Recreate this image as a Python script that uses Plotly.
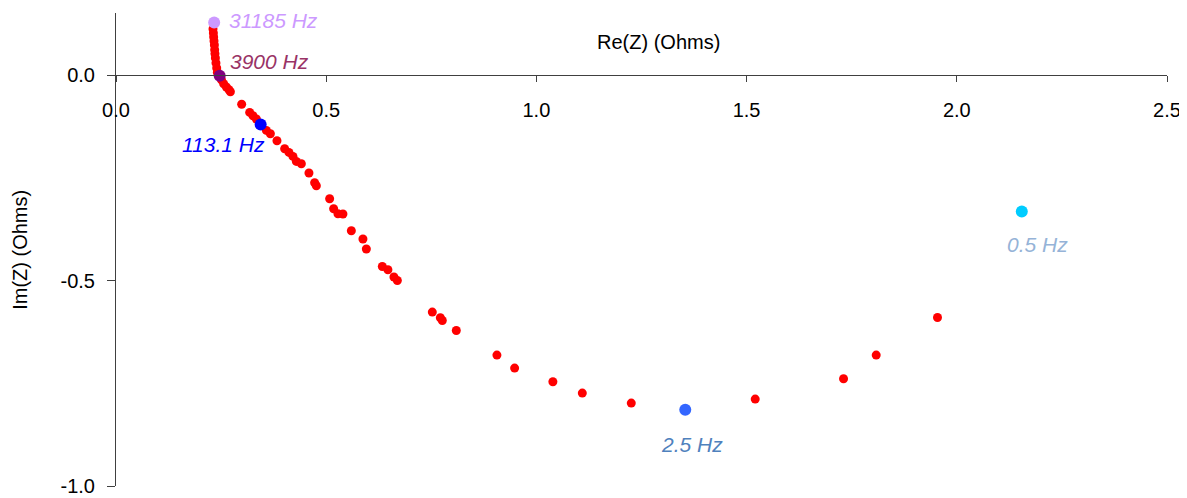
import plotly.graph_objects as go

# Nyquist data (Re, Im)
re_pts = [0.2307, 0.2316, 0.2323, 0.2331, 0.2340, 0.2347, 0.2354, 0.2364, 0.2378, 0.2395, 0.2411,
          0.2507, 0.2561, 0.2625, 0.2687, 0.2721, 0.2989, 0.3180, 0.3258, 0.3339,
          0.3577, 0.3672, 0.3829, 0.4012, 0.4114, 0.4209, 0.4290, 0.4409, 0.4590, 0.4725, 0.4766,
          0.5082, 0.5177, 0.5279, 0.5398, 0.5598, 0.5874, 0.5955, 0.6335, 0.6468, 0.6611, 0.6692,
          0.7524, 0.7715, 0.7762, 0.8095, 0.9061, 0.9482, 1.0392, 1.1092, 1.2257,
          1.5205, 1.7306, 1.8083, 1.9541]
im_pts = [0.1130, 0.1033, 0.0935, 0.0838, 0.0741, 0.0626, 0.0529, 0.0424, 0.0302, 0.0180, 0.0073,
          -0.0105, -0.0202, -0.0283, -0.0348, -0.0397, -0.0702, -0.0901, -0.0982, -0.1062,
          -0.1340, -0.1420, -0.1591, -0.1786, -0.1876, -0.1973, -0.2095, -0.2151, -0.2378, -0.2615, -0.2688,
          -0.3004, -0.3248, -0.3369, -0.3376, -0.3783, -0.3985, -0.4229, -0.4653, -0.4734, -0.4910, -0.4994,
          -0.5764, -0.5903, -0.5969, -0.6212, -0.6812, -0.7129, -0.7462, -0.7737, -0.7981,
          -0.7883, -0.7389, -0.6811, -0.5895]

# highlighted frequencies
hl_labels = ["31185 Hz", "3900 Hz", "113.1 Hz", "2.5 Hz", "0.5 Hz"]
hl_re = [0.2335, 0.2466, 0.3441, 1.3541, 2.1546]
hl_im = [0.1291, -0.0007, -0.1194, -0.8144, -0.3313]
hl_point_colors = ["#CC99FF", "#800080", "#0000FF", "#3366FF", "#00CCFF"]
hl_text_colors = ["#CC99FF", "#993366", "#0000FF", "#4F81BD", "#95B3D7"]

x_ticks = [0.0, 0.5, 1.0, 1.5, 2.0, 2.5]
x_tick_text = ["0.0", "0.5", "1.0", "1.5", "2.0", "2.5"]
y_ticks = [-1.0, -0.5, 0.0]
y_tick_text = ["-1.0", "-0.5", "0.0"]

FONT = "Arial, Liberation Sans, sans-serif"

fig = go.Figure()
fig.add_trace(go.Scatter(x=re_pts, y=im_pts, mode="markers",
                         marker=dict(color="#FF0000", size=9, line=dict(width=0)),
                         showlegend=False, hoverinfo="x+y"))
fig.add_trace(go.Scatter(x=hl_re, y=hl_im, mode="markers",
                         marker=dict(color=hl_point_colors, size=12, line=dict(width=0)),
                         showlegend=False, hoverinfo="x+y"))

# label offsets (pixels) relative to the marked point
offsets = [(13, 2, "left"), (8, 14, "left"), (6, -20, "right"), (7, -35, "center"), (16, -33, "center")]
for lab, xv, yv, col, (dx, dy, anc) in zip(hl_labels, hl_re, hl_im, hl_text_colors, offsets):
    fig.add_annotation(x=xv, y=yv, xref="x", yref="y", text=f"<i>{lab}</i>", showarrow=False,
                       xanchor=anc, yanchor="middle", xshift=dx, yshift=dy,
                       font=dict(family=FONT, size=21, color=col))

fig.add_annotation(x=0.516, y=0.9387, xref="paper", yref="paper", text="Re(Z) (Ohms)",
                   showarrow=False, xanchor="center", yanchor="middle",
                   font=dict(family=FONT, size=20, color="#000000"))
fig.add_annotation(x=-0.092, y=0.5, xref="paper", yref="paper", text="Im(Z) (Ohms)",
                   showarrow=False, textangle=-90, xanchor="center", yanchor="middle",
                   font=dict(family=FONT, size=20, color="#000000"))

# the page body adds an 8px offset, so the figure is sized to fill the rest of the window
fig.update_layout(
    width=1179, height=490,
    margin=dict(l=108, r=19.5, t=5.3, b=12),
    plot_bgcolor="white", paper_bgcolor="white",
    font=dict(family=FONT, size=20, color="#000000"),
    xaxis=dict(range=[0, 2.5], tickvals=x_ticks, ticktext=x_tick_text,
               showline=True, linecolor="#404040", linewidth=1,
               ticks="outside", ticklen=6, tickcolor="#404040",
               showgrid=False, zeroline=False, automargin=False,
               anchor="free", position=1 / 1.152, ticklabelstandoff=11),
    yaxis=dict(range=[-1.0, 0.152], tickvals=y_ticks, ticktext=y_tick_text,
               showline=True, linecolor="#404040", linewidth=1,
               ticks="outside", ticklen=8, tickcolor="#404040",
               showgrid=False, zeroline=False, automargin=False, ticklabelstandoff=8),
)

fig.write_html("out.html")
